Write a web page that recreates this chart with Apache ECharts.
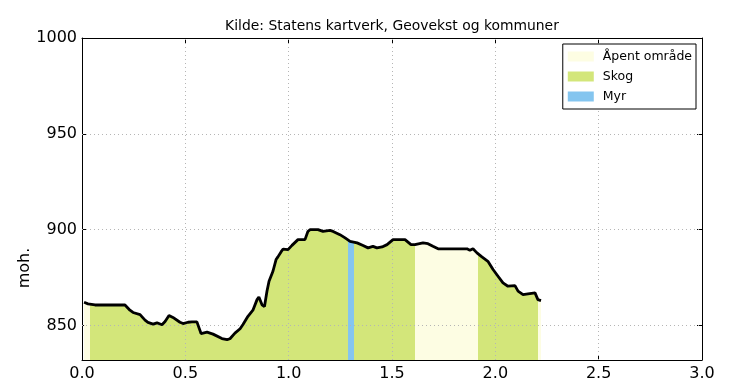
<!DOCTYPE html>
<html><head><meta charset="utf-8">
<script src="https://cdn.jsdelivr.net/npm/echarts@6/dist/echarts.min.js"></script>
<style>html,body{margin:0;padding:0;background:#fff}#c{width:732px;height:384px}</style>
</head><body><div id="c"></div>
<script>
// ---- data ----
const distKm = [0.010,0.029,0.063,0.135,0.208,0.232,0.247,0.281,0.305,0.319,0.344,0.363,0.387,0.402,0.421,0.440,0.474,0.489,0.513,0.532,0.556,0.576,0.605,0.634,0.677,0.702,0.716,0.740,0.765,0.779,0.803,0.827,0.847,0.856,0.871,0.883,0.895,0.905,0.924,0.939,0.948,0.963,0.973,0.997,1.016,1.045,1.079,1.093,1.103,1.142,1.166,1.200,1.215,1.248,1.273,1.297,1.331,1.360,1.384,1.408,1.427,1.452,1.476,1.505,1.563,1.592,1.611,1.650,1.674,1.698,1.723,1.863,1.877,1.892,1.911,1.935,1.964,1.989,2.013,2.037,2.061,2.095,2.110,2.134,2.158,2.192,2.206,2.221];
const elevation = [862.1,861.3,860.7,860.7,860.7,858.0,856.8,855.7,852.8,851.6,850.7,851.4,850.4,852.1,855.2,854.2,851.7,851.0,851.7,851.9,851.9,845.8,846.5,845.5,843.2,842.6,843.1,846.0,848.3,850.5,854.8,858.0,863.5,864.9,860.8,859.9,867.9,873.1,878.3,884.4,885.8,888.4,889.9,889.6,891.8,894.8,894.8,899.0,900.0,900.0,899.1,899.6,899.1,897.4,895.7,893.9,893.1,891.7,890.5,891.3,890.5,891.0,892.2,894.8,894.8,892.2,892.2,893.1,892.7,891.3,890.0,890.0,889.2,890.0,887.9,885.8,883.5,879.2,875.7,872.2,870.5,870.8,867.9,866.1,866.5,867.0,863.5,863.0];
const coverNames = ['Åpent område', 'Skog', 'Myr'];
const segStart = [0.000, 0.039, 1.286, 1.316, 1.611, 1.915, 2.205];
const segEnd   = [0.039, 1.286, 1.316, 1.611, 1.915, 2.205, 2.300];
const segCover = ['Åpent område', 'Skog', 'Myr', 'Skog', 'Åpent område', 'Skog', 'Åpent område'];
const xTicks = [0, 0.5, 1.0, 1.5, 2.0, 2.5, 3.0];
const yTicks = [850, 900, 950, 1000];
const yMin = 832, yMax = 1000;
const titleText = 'Kilde: Statens kartverk, Geovekst og kommuner';
const yName = 'moh.';

// ---- styles ----
const coverColor = {'Åpent område': '#fdfde3', 'Skog': '#d3e67a', 'Myr': '#84c5ef'};
const FONT = 'DejaVu Sans';
const gridLine = {color: '#b5b5b5', width: 1, type: [1, 3]};

const profile = distKm.map((d, i) => [d, elevation[i]]);
const pieces = segStart.map((s, i) => ({gte: s, lt: segEnd[i], color: coverColor[segCover[i]]}));

const markData = [];
xTicks.slice(1, -1).forEach(v => markData.push({xAxis: v}));
yTicks.filter(v => v > yMin && v < yMax).forEach(v => markData.push({yAxis: v}));

const chart = echarts.init(document.getElementById('c'), null, {renderer: 'canvas'});
chart.setOption({
  animation: false,
  backgroundColor: '#fff',
  textStyle: {fontFamily: FONT},
  grid: {left: 82, right: 30, top: 38, bottom: 24, containLabel: false},
  legend: {
    orient: 'vertical', right: 36, top: 44, padding: [6, 4, 6, 5],
    backgroundColor: '#fff', borderColor: '#000', borderWidth: 1, borderRadius: 0,
    itemWidth: 26, itemHeight: 10, itemGap: 7, icon: 'rect',
    textStyle: {fontSize: 12.5, color: '#000', fontFamily: FONT, padding: [0, 0, 0, 4]},
    data: coverNames
  },
  visualMap: {
    type: 'piecewise', show: false, dimension: 0, seriesIndex: 0,
    pieces: pieces, outOfRange: {color: coverColor['Åpent område']}
  },
  xAxis: [{
    type: 'value', min: 0, max: 3, interval: 0.5, position: 'bottom',
    axisLine: {show: true, onZero: false, lineStyle: {color: '#000', width: 1}},
    axisTick: {show: true, inside: true, length: 5, lineStyle: {color: '#000'}},
    axisLabel: {fontSize: 16, color: '#000', margin: 6, fontFamily: FONT, formatter: v => v.toFixed(1)},
    splitLine: {show: false}
  }, {
    type: 'value', min: 0, max: 3, interval: 0.5, position: 'top',
    axisLine: {show: true, onZero: false, lineStyle: {color: '#000', width: 1}},
    axisTick: {show: true, inside: true, length: 5, lineStyle: {color: '#000'}},
    axisLabel: {show: false}, splitLine: {show: false}
  }],
  yAxis: [{
    type: 'value', min: yMin, max: yMax, position: 'left',
    axisLine: {show: true, onZero: false, lineStyle: {color: '#000', width: 1}},
    axisTick: {show: true, inside: true, length: 5, customValues: yTicks, lineStyle: {color: '#000'}},
    axisLabel: {fontSize: 16, color: '#000', margin: 5, fontFamily: FONT, customValues: yTicks, formatter: v => String(v)},
    splitLine: {show: false}
  }, {
    type: 'value', min: yMin, max: yMax, position: 'right',
    axisLine: {show: true, onZero: false, lineStyle: {color: '#000', width: 1}},
    axisTick: {show: true, inside: true, length: 5, customValues: yTicks, lineStyle: {color: '#000'}},
    axisLabel: {show: false}, splitLine: {show: false}
  }],
  graphic: [{
    type: 'text', x: 392, y: 26,
    style: {text: titleText, font: '13.9px "DejaVu Sans"', fill: '#000', align: 'center', verticalAlign: 'middle'}
  }, {
    type: 'text', x: 25, y: 268, rotation: Math.PI / 2,
    style: {text: yName, font: '16px "DejaVu Sans"', fill: '#000', align: 'center', verticalAlign: 'middle'}
  }],
  series: [{
    type: 'line', name: 'terreng', data: profile, symbol: 'none', z: 1,
    lineStyle: {width: 0, opacity: 0},
    areaStyle: {opacity: 1, origin: 'start'},
    silent: true
  }, {
    type: 'line', name: 'profil', data: profile, symbol: 'none', z: 3,
    lineStyle: {color: '#000', width: 2.8}, silent: true,
    markLine: {
      silent: true, symbol: 'none', label: {show: false},
      lineStyle: gridLine, data: markData, z: 2
    }
  }].concat(coverNames.map(n => ({
    type: 'line', name: n, data: [], symbol: 'none',
    itemStyle: {color: coverColor[n]}, lineStyle: {color: coverColor[n]}
  })))
});
</script>
</body></html>
